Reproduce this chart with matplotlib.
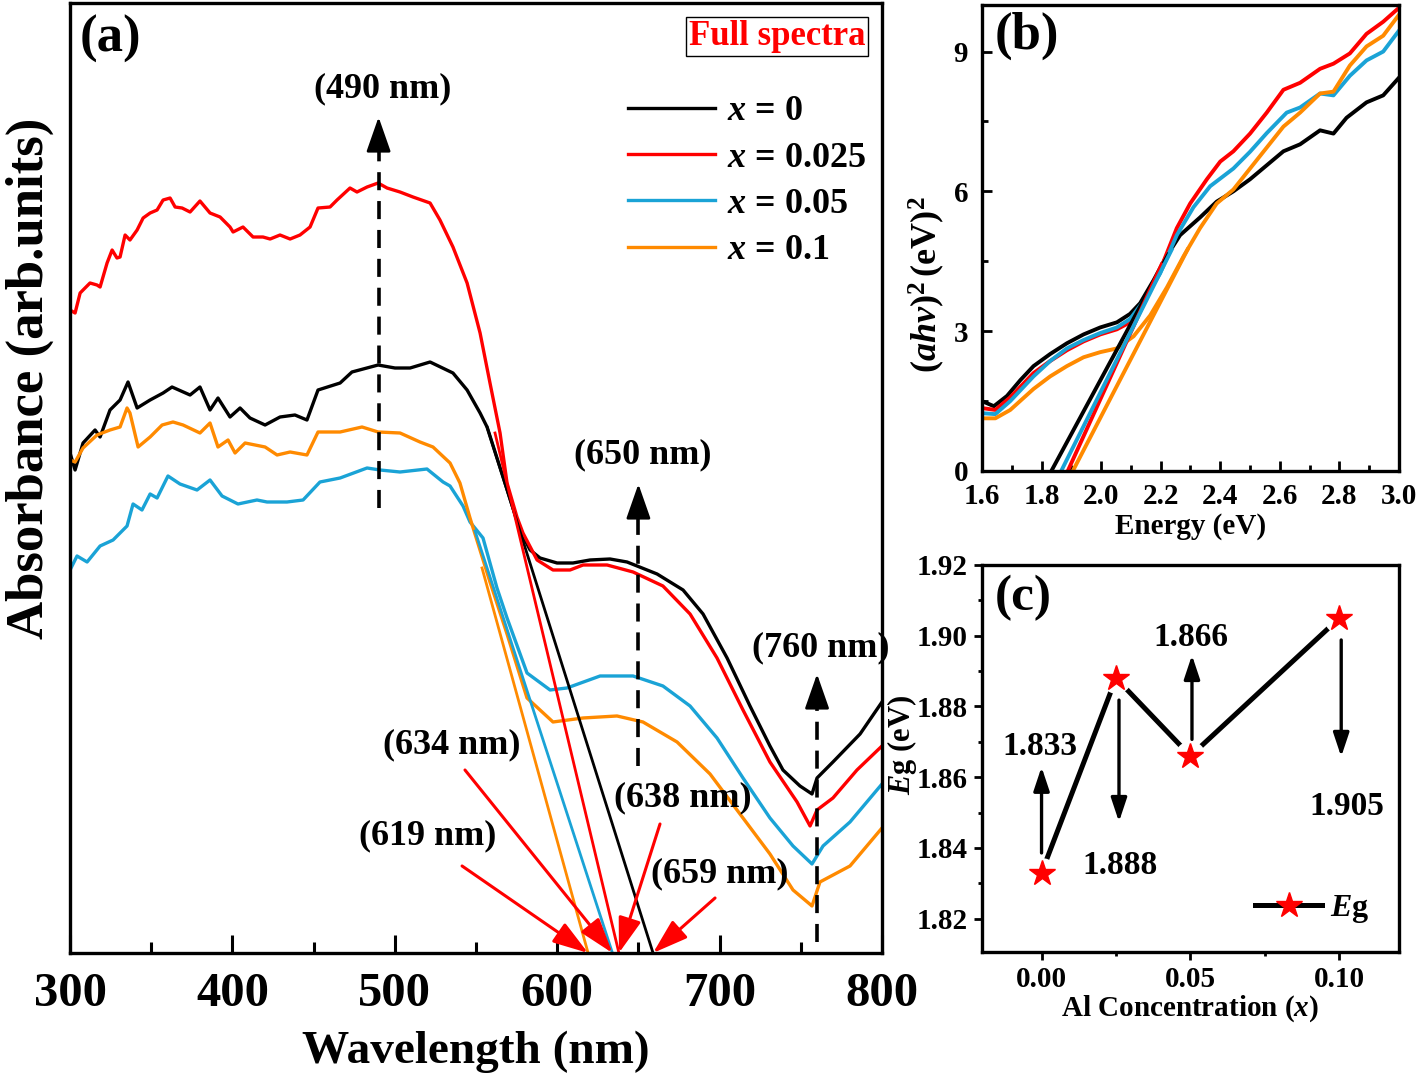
import numpy as np
import matplotlib.pyplot as plt
from matplotlib.lines import Line2D

plt.rcParams['font.family'] = 'Liberation Serif'
plt.rcParams['font.weight'] = 'bold'
plt.rcParams['axes.labelweight'] = 'bold'
plt.rcParams['mathtext.fontset'] = 'custom'
plt.rcParams['mathtext.rm'] = 'Liberation Serif:bold'
plt.rcParams['mathtext.it'] = 'Liberation Serif:italic:bold'
plt.rcParams['mathtext.bf'] = 'Liberation Serif:bold'

# ---- (a) absorbance spectra (arb. units) ----
black_nm = [300.0, 303.1, 308.0, 315.4, 318.5, 324.6, 330.8, 335.7, 341.3, 349.3, 357.3, 362.8, 373.9, 380.0,
            386.2, 391.1, 398.5, 404.7, 410.8, 420.1, 429.3, 438.5, 445.9, 452.7, 466.3, 473.6, 489.7, 500.1,
            509.4, 521.7, 535.8, 544.5, 552.5, 556.8, 577.1, 583.3, 589.4, 599.9, 609.7, 620.2, 632.5, 643.0,
            661.5, 677.5, 689.8, 704.6, 718.7, 731.0, 739.0, 749.5, 756.9, 760.0, 769.8, 786.5, 800.0]
black_abs = [5.00, 4.83, 5.10, 5.23, 5.16, 5.43, 5.53, 5.71, 5.45, 5.53, 5.60, 5.66, 5.58, 5.66,
             5.43, 5.55, 5.36, 5.45, 5.35, 5.28, 5.36, 5.38, 5.33, 5.63, 5.70, 5.81, 5.88, 5.85,
             5.85, 5.91, 5.80, 5.63, 5.40, 5.26, 4.23, 4.03, 3.95, 3.90, 3.90, 3.93, 3.94, 3.91,
             3.79, 3.63, 3.39, 2.95, 2.47, 2.07, 1.83, 1.67, 1.59, 1.75, 1.91, 2.19, 2.51]

red_nm = [300.0, 303.1, 306.2, 308.0, 312.3, 316.6, 318.5, 322.8, 325.9, 328.9,
          330.8, 333.9, 336.9, 341.3, 345.0, 349.3, 353.6, 357.3, 361.6, 364.7,
          369.0, 373.9, 380.0, 386.2, 392.4, 398.5, 400.4, 406.5, 412.7, 418.8,
          423.2, 429.3, 435.5, 441.6, 447.8, 452.7, 460.1, 464.4, 472.4, 476.7,
          482.9, 489.7, 495.2, 503.2, 511.2, 521.7, 527.8, 535.8, 544.5, 552.5,
          558.6, 564.8, 569.1, 575.2, 578.9, 587.6, 597.4, 607.9, 615.9, 630.7,
          646.7, 665.1, 681.8, 698.4, 714.4, 731.0, 747.7, 755.7, 760.0, 769.8,
          784.6, 800.0]
red_abs = [6.43, 6.40, 6.60, 6.63, 6.70, 6.68, 6.66, 6.90, 7.03, 6.95,
           6.96, 7.18, 7.13, 7.23, 7.35, 7.40, 7.43, 7.53, 7.55, 7.46,
           7.45, 7.41, 7.52, 7.40, 7.36, 7.26, 7.21, 7.26, 7.16, 7.16,
           7.14, 7.18, 7.14, 7.18, 7.26, 7.45, 7.46, 7.53, 7.65, 7.61,
           7.66, 7.70, 7.65, 7.61, 7.56, 7.50, 7.33, 7.06, 6.70, 6.20,
           5.70, 5.20, 4.70, 4.36, 4.20, 3.93, 3.83, 3.83, 3.88, 3.88,
           3.81, 3.67, 3.39, 2.95, 2.43, 1.91, 1.51, 1.27, 1.43, 1.55,
           1.83, 2.07]

cyan_nm = [300.0, 304.3, 310.5, 318.5, 326.5, 335.1, 338.8, 344.3, 349.3, 353.6,
           360.3, 367.7, 378.2, 386.2, 393.6, 403.4, 415.1, 421.3, 433.6, 443.5,
           453.9, 466.3, 482.9, 490.9, 503.2, 519.8, 529.7, 534.0, 542.0, 546.3,
           554.3, 562.9, 569.1, 581.4, 595.6, 606.0, 626.4, 646.7, 665.1, 681.8,
           698.4, 714.4, 731.0, 745.2, 756.9, 763.7, 780.3, 800.0]
cyan_abs = [3.83, 3.97, 3.91, 4.07, 4.13, 4.27, 4.49, 4.43, 4.59, 4.55,
            4.77, 4.69, 4.63, 4.73, 4.57, 4.49, 4.53, 4.51, 4.51, 4.53,
            4.71, 4.75, 4.85, 4.83, 4.81, 4.84, 4.71, 4.67, 4.47, 4.31,
            4.15, 3.65, 3.35, 2.80, 2.63, 2.65, 2.77, 2.77, 2.67, 2.47,
            2.15, 1.75, 1.35, 1.07, 0.89, 1.07, 1.31, 1.69]

orange_nm = [300.0, 303.1, 308.0, 316.6, 324.6, 330.8, 335.1, 336.9, 341.9, 349.3,
             356.7, 363.4, 369.6, 380.0, 386.2, 391.1, 397.3, 401.6, 407.8, 420.1,
             427.5, 435.5, 445.9, 452.7, 466.3, 479.8, 489.7, 503.2, 515.5, 523.5,
             534.0, 540.1, 546.3, 558.6, 569.1, 581.4, 597.4, 615.9, 636.8, 652.8,
             673.8, 694.1, 714.4, 731.0, 745.2, 756.9, 761.8, 780.3, 800.0]
orange_abs = [4.93, 4.91, 5.05, 5.18, 5.23, 5.26, 5.45, 5.40, 5.06, 5.16,
              5.28, 5.31, 5.28, 5.20, 5.30, 5.06, 5.13, 5.00, 5.10, 5.06,
              4.98, 5.01, 4.98, 5.21, 5.21, 5.26, 5.21, 5.20, 5.11, 5.06,
              4.90, 4.70, 4.35, 3.71, 3.19, 2.55, 2.31, 2.35, 2.37, 2.31,
              2.11, 1.79, 1.35, 0.99, 0.63, 0.47, 0.71, 0.87, 1.25]

# tangent lines in (a): (start nm, start abs) -> intercept nm
tan_a_start_nm = [556.8, 561.7, 549.4, 553.7]
tan_a_start_abs = [5.26, 5.20, 4.22, 3.85]
edge_nm = [659, 638, 634, 619]

# ---- (b) Tauc plot ----
e_black = [1.600, 1.640, 1.684, 1.729, 1.773, 1.829, 1.885, 1.941, 1.997, 2.053, 2.097, 2.131, 2.176, 2.220,
           2.265, 2.332, 2.388, 2.444, 2.500, 2.556, 2.612, 2.668, 2.735, 2.780, 2.824, 2.891, 2.947, 3.000]
y_black = [1.50, 1.39, 1.61, 1.95, 2.25, 2.51, 2.74, 2.93, 3.08, 3.19, 3.37, 3.60, 4.09, 4.61,
           5.06, 5.44, 5.78, 6.00, 6.26, 6.56, 6.86, 7.01, 7.31, 7.24, 7.58, 7.91, 8.06, 8.44]
e_red = [1.600, 1.645, 1.695, 1.773, 1.829, 1.885, 1.941, 1.997, 2.053, 2.097, 2.131, 2.198, 2.254, 2.299,
         2.355, 2.400, 2.444, 2.500, 2.556, 2.612, 2.668, 2.735, 2.780, 2.835, 2.891, 2.947, 3.000]
y_red = [1.35, 1.31, 1.58, 2.10, 2.36, 2.59, 2.78, 2.93, 3.04, 3.19, 3.49, 4.31, 5.21, 5.74,
         6.26, 6.64, 6.86, 7.24, 7.69, 8.18, 8.33, 8.63, 8.74, 8.96, 9.38, 9.64, 9.94]
e_cyan = [1.600, 1.645, 1.695, 1.773, 1.829, 1.885, 1.941, 1.997, 2.053, 2.097, 2.142, 2.198, 2.254,
          2.310, 2.366, 2.444, 2.500, 2.556, 2.623, 2.668, 2.735, 2.780, 2.835, 2.891, 2.947, 3.000]
y_cyan = [1.24, 1.22, 1.50, 2.03, 2.36, 2.63, 2.81, 2.96, 3.08, 3.26, 3.64, 4.24, 5.06,
          5.66, 6.11, 6.49, 6.85, 7.25, 7.69, 7.80, 8.10, 8.06, 8.48, 8.81, 9.00, 9.45]
e_orange = [1.600, 1.645, 1.695, 1.773, 1.829, 1.885, 1.941, 1.997, 2.053, 2.109, 2.165, 2.221, 2.277,
            2.332, 2.388, 2.444, 2.500, 2.556, 2.612, 2.668, 2.735, 2.780, 2.835, 2.891, 2.947, 3.000]
y_orange = [1.13, 1.13, 1.31, 1.76, 2.03, 2.25, 2.44, 2.55, 2.63, 2.89, 3.34, 3.94, 4.61,
            5.21, 5.74, 6.04, 6.49, 6.94, 7.39, 7.69, 8.10, 8.14, 8.70, 9.11, 9.34, 9.79]

# tangent lines in (b): from band gap (y=0) to an upper point
tan_b_end_e = [2.225, 2.203, 2.237, 2.29]
tan_b_end_y = [4.64, 4.43, 4.75, 4.75]

# ---- (c) band gap vs Al ----
al_x = [0.0, 0.025, 0.05, 0.10]
eg = [1.833, 1.888, 1.866, 1.905]

labels = ['$\\mathit{x}$ = 0', '$\\mathit{x}$ = 0.025', '$\\mathit{x}$ = 0.05', '$\\mathit{x}$ = 0.1']
colors = ['black', '#ff0000', '#1aa3d6', '#ff8a00']

fig = plt.figure(figsize=(14.18, 10.79), dpi=100)
ax_a = fig.add_axes([0.0494, 0.1168, 0.5726, 0.8804])
ax_b = fig.add_axes([0.6925, 0.5635, 0.2941, 0.4319])
ax_c = fig.add_axes([0.6925, 0.1177, 0.2941, 0.3587])

# ---------------- panel (a) ----------------
curves = [(black_nm, black_abs), (red_nm, red_abs), (cyan_nm, cyan_abs), (orange_nm, orange_abs)]
for (xn, ya), c, lab in zip(curves, colors, labels):
    ax_a.plot(xn, ya, color=c, lw=2.4, label=lab)
for s_nm, s_abs, e_nm, c in zip(tan_a_start_nm, tan_a_start_abs, edge_nm, colors):
    ax_a.plot([s_nm, e_nm], [s_abs, 0], color=c, lw=2.0)

ax_a.set_xlim(300, 800)
ax_a.set_ylim(0, 9.5)
ax_a.set_yticks([])
ax_a.set_xticks([300, 400, 500, 600, 700, 800])
ax_a.set_xticks([350, 450, 550, 650, 750], minor=True)
ax_a.tick_params(axis='x', which='major', direction='in', length=13, width=2.2, labelsize=35, pad=14)
ax_a.tick_params(axis='x', which='minor', direction='in', length=8, width=2.2)
for sp in ax_a.spines.values():
    sp.set_linewidth(2.4)
ax_a.set_xlabel('Wavelength (nm)', fontsize=34, labelpad=10)
ax_a.set_ylabel('Absorbance (arb.units)', fontsize=38)
ax_a.yaxis.set_label_coords(-0.02, 0.605)

ax_a.legend(loc='upper left', bbox_to_anchor=(0.687, 0.903), frameon=False, fontsize=26,
            handlelength=2.4, handletextpad=0.35, labelspacing=0.36, borderpad=0, borderaxespad=0)

ax_a.text(0.012, 0.988, '(a)', transform=ax_a.transAxes, fontsize=38, ha='left', va='top')
ax_a.text(0.871, 0.965, 'Full spectra', transform=ax_a.transAxes, fontsize=25, color='red',
          ha='center', va='center',
          bbox=dict(boxstyle='square,pad=0.08', fc='white', ec='black', lw=1.0))

# dashed peak markers
peak_nm = [490, 650, 760]
peak_from = [4.45, 1.87, 0.11]
peak_tip = [8.36, 4.69, 2.79]
peak_txt_y = [8.64, 4.98, 3.05]
for pn, y0, y1, ty in zip(peak_nm, peak_from, peak_tip, peak_txt_y):
    ax_a.plot([pn, pn], [y0, y1 - 0.28], color='k', lw=2.6, ls=(0, (5, 3)))
    ax_a.annotate('', xy=(pn, y1), xytext=(pn, y1 - 0.34),
                  arrowprops=dict(arrowstyle='-|>,head_length=0.8,head_width=0.28', color='k',
                                  lw=2.0, shrinkA=0, shrinkB=0, mutation_scale=27))
    ax_a.text(pn + 2.5, ty, '(%d nm)' % pn, fontsize=26, ha='center', va='center')

# absorption edge arrows
edge_txt_x = [700.2, 677.5, 535.2, 520.4]
edge_txt_y = [0.79, 1.55, 2.08, 1.17]
arrow_from_nm = [697.2, 663.3, 543.2, 541.4]
arrow_from_abs = [0.55, 1.29, 1.83, 0.87]
for en, tx, ty, fx, fy in zip(edge_nm, edge_txt_x, edge_txt_y, arrow_from_nm, arrow_from_abs):
    ax_a.annotate('', xy=(en, 0.0), xytext=(fx, fy),
                  arrowprops=dict(arrowstyle='-|>,head_length=0.8,head_width=0.26', color='red',
                                  lw=2.2, shrinkA=0, shrinkB=0, mutation_scale=27))
    ax_a.text(tx, ty, '(%d nm)' % en, fontsize=26, ha='center', va='center')

# ---------------- panel (b) ----------------
tauc = [(e_black, y_black), (e_red, y_red), (e_cyan, y_cyan), (e_orange, y_orange)]
for (ex, yv), c in zip(tauc, colors):
    ax_b.plot(ex, yv, color=c, lw=2.8)
for g, ee, ey, c in zip(eg, tan_b_end_e, tan_b_end_y, colors):
    ax_b.plot([g, ee], [0, ey], color=c, lw=2.8)

ax_b.set_xlim(1.6, 3.0)
ax_b.set_ylim(0, 10)
ax_b.set_xticks(np.arange(1.6, 3.01, 0.2))
ax_b.set_xticklabels(['1.6', '1.8', '2.0', '2.2', '2.4', '2.6', '2.8', '3.0'])
ax_b.set_xticks(np.arange(1.7, 3.0, 0.2), minor=True)
ax_b.set_yticks([0, 3, 6, 9])
ax_b.set_yticks([1.5, 4.5, 7.5], minor=True)
ax_b.tick_params(which='major', direction='in', length=7, width=2, labelsize=21)
ax_b.tick_params(axis='x', which='major', pad=9)
ax_b.tick_params(axis='y', which='major', pad=10)
ax_b.tick_params(which='minor', direction='in', length=4, width=2)
for sp in ax_b.spines.values():
    sp.set_linewidth(2.4)
ax_b.set_xlabel('Energy (eV)', fontsize=21, labelpad=2)
ax_b.set_ylabel('$(\\mathit{ahv})^{2}\\,\\mathrm{(eV)}^{2}$', fontsize=26)
ax_b.yaxis.set_label_coords(-0.085, 0.4)
ax_b.text(0.03, 0.985, '(b)', transform=ax_b.transAxes, fontsize=38, ha='left', va='top')

# ---------------- panel (c) ----------------
ax_c.plot(al_x, eg, color='k', lw=3.6, zorder=2)
ax_c.plot(al_x, eg, 'o', ms=22, color='white', mec='none', zorder=3)
ax_c.plot(al_x, eg, '*', ms=19, color='red', mec='red', zorder=4)

# value arrows: (x, start, end) and label position
val_arrow_x = [0.0, 0.026, 0.0505, 0.1006]
val_arrow_from = [1.8386, 1.8818, 1.8707, 1.8988]
val_arrow_to = [1.8629, 1.8474, 1.8945, 1.8658]
val_txt_x = [-0.0006, 0.0265, 0.0502, 0.1025]
val_txt_y = [1.8687, 1.8350, 1.8995, 1.8517]
for ax_x, f, t, tx, ty, v in zip(val_arrow_x, val_arrow_from, val_arrow_to, val_txt_x, val_txt_y, eg):
    ax_c.annotate('', xy=(ax_x, t), xytext=(ax_x, f),
                  arrowprops=dict(arrowstyle='-|>,head_length=0.6,head_width=0.2', color='k',
                                  lw=2.4, shrinkA=0, shrinkB=0, mutation_scale=24), zorder=5)
    ax_c.text(tx, ty, '%.3f' % v, fontsize=24, ha='center', va='center')

ax_c.set_xlim(-0.02, 0.12)
ax_c.set_ylim(1.8106, 1.92)
ax_c.set_xticks([0.0, 0.05, 0.10])
ax_c.set_xticklabels(['0.00', '0.05', '0.10'])
ax_c.set_xticks([0.025, 0.075], minor=True)
ax_c.set_yticks([1.82, 1.84, 1.86, 1.88, 1.90, 1.92])
ax_c.set_yticklabels(['1.82', '1.84', '1.86', '1.88', '1.90', '1.92'])
ax_c.set_yticks([1.83, 1.85, 1.87, 1.89, 1.91], minor=True)
ax_c.tick_params(which='major', direction='out', length=6, width=2, labelsize=21, pad=4)
ax_c.tick_params(which='minor', direction='out', length=3, width=2)
for sp in ax_c.spines.values():
    sp.set_linewidth(2.4)
ax_c.set_xlabel('Al Concentration ($\\mathit{x}$)', fontsize=21, labelpad=0)
ax_c.set_ylabel('$\\mathit{E}$g (eV)', fontsize=22)
ax_c.yaxis.set_label_coords(-0.15, 0.535)
ax_c.text(0.03, 0.975, '(c)', transform=ax_c.transAxes, fontsize=37, ha='left', va='top')

eg_handle = Line2D([], [], color='k', lw=3.6, marker='*', ms=19, mfc='red', mec='red')
ax_c.legend([eg_handle], ['$\\mathit{E}$g'], loc='lower right', bbox_to_anchor=(0.93, 0.07),
            frameon=False, fontsize=23, handlelength=2.1, handletextpad=0.25, borderpad=0,
            borderaxespad=0)

fig.savefig('out.png', dpi=100)
